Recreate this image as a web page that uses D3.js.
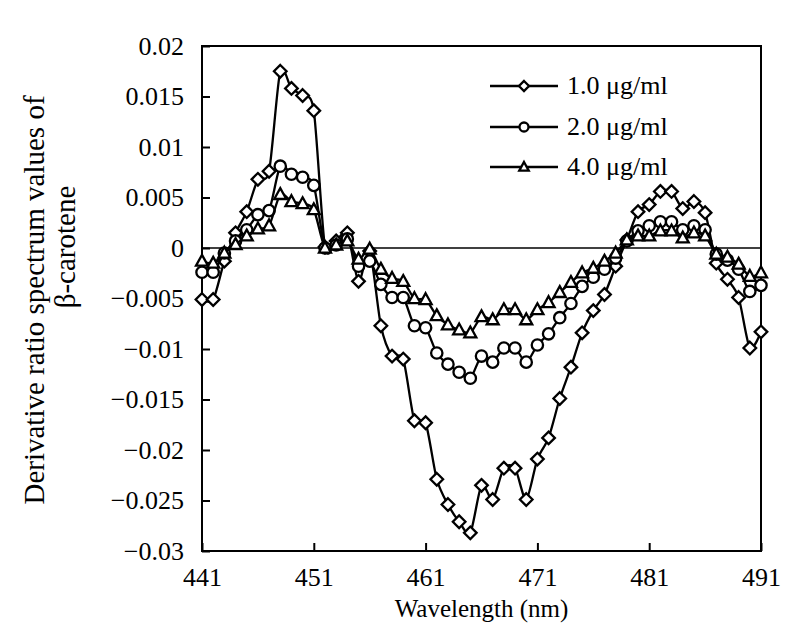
<!DOCTYPE html>
<html>
<head>
<meta charset="utf-8">
<script src="https://cdn.jsdelivr.net/npm/d3@7"></script>
<style>
  html, body { margin: 0; padding: 0; background: #fff; }
  svg { display: block; }
  text { font-family: "Liberation Serif", "Times New Roman", serif; fill: #000; }
</style>
</head>
<body>
<svg id="chart" width="800" height="642"></svg>
<script>
// ---- data (values in units of 1e-3) ----
const wavelengths = [441,442,443,444,445,446,447,448,449,450,451,452,453,454,455,456,457,458,459,460,461,462,463,464,465,466,467,468,469,470,471,472,473,474,475,476,477,478,479,480,481,482,483,484,485,486,487,488,489,490,491];
const conc1 = [-5.1,-5.1,-1.3,1.5,3.6,6.8,7.6,17.5,15.8,15.1,13.6,0.1,0.7,1.5,-3.3,-0.3,-7.7,-10.7,-11.0,-17.1,-17.3,-22.9,-25.4,-27.1,-28.2,-23.5,-24.9,-21.8,-21.8,-24.9,-20.9,-18.8,-14.9,-11.8,-8.4,-6.2,-4.6,-1.8,0.8,3.6,4.3,5.6,5.6,3.9,4.6,3.5,-1.5,-3.1,-4.9,-9.9,-8.3];
const conc2 = [-2.4,-2.4,-0.5,0.7,1.8,3.3,3.7,8.1,7.3,7.0,6.2,0.0,0.3,0.9,-1.8,-1.3,-3.6,-4.9,-4.9,-7.7,-7.9,-10.4,-11.5,-12.3,-12.9,-10.7,-11.3,-9.9,-9.9,-11.3,-9.6,-8.5,-6.9,-5.5,-3.8,-2.9,-2.1,-1.0,0.7,1.7,2.2,2.6,2.6,1.8,2.2,1.8,-0.6,-1.2,-2.1,-4.3,-3.7];
const conc4 = [-1.3,-1.5,-0.5,0.35,1.2,1.9,2.2,5.3,4.6,4.4,3.8,0.0,0.3,0.7,-1.1,-0.1,-2.1,-3.0,-3.3,-5.0,-5.1,-6.7,-7.6,-8.1,-8.4,-6.8,-7.1,-6.1,-6.1,-7.1,-6.1,-5.4,-4.4,-3.4,-2.45,-2.0,-1.3,-0.5,0.8,1.2,1.2,1.7,1.7,1.0,1.5,1.2,-0.6,-0.9,-1.6,-2.8,-2.45];
const seriesNames = ["1.0 \u03bcg/ml", "2.0 \u03bcg/ml", "4.0 \u03bcg/ml"];
const seriesMarkers = ["diamond", "circle", "triangle"];
const xTicks = [441,451,461,471,481,491];
const yTicks = [0.02,0.015,0.01,0.005,0,-0.005,-0.01,-0.015,-0.02,-0.025,-0.03];
const yTickLabels = ["0.02","0.015","0.01","0.005","0","\u22120.005","\u22120.01","\u22120.015","\u22120.02","\u22120.025","\u22120.03"];
const xTitle = "Wavelength (nm)";
const yTitleLines = ["Derivative ratio spectrum values of", "\u03b2-carotene"];

// ---- layout ----
const svg = d3.select("#chart");
const m = {left: 202, right: 761, top: 46, bottom: 551};
const x = d3.scaleLinear().domain([441, 491]).range([m.left, m.right]);
const y = d3.scaleLinear().domain([-0.03, 0.02]).range([m.bottom, m.top]);

const series = [conc1, conc2, conc4].map((vals, i) => ({
  name: seriesNames[i], marker: seriesMarkers[i],
  points: wavelengths.map((w, j) => ({x: w, y: vals[j] / 1000}))
}));

svg.append("clipPath").attr("id", "clip")
  .append("rect").attr("x", m.left - 8).attr("y", m.top).attr("width", m.right - m.left + 16).attr("height", m.bottom - m.top);

// zero line
svg.append("line")
  .attr("x1", m.left).attr("x2", m.right)
  .attr("y1", y(0)).attr("y2", y(0))
  .attr("stroke", "#000").attr("stroke-width", 1.5);

// axes (inward ticks)
const yAxis = d3.axisLeft(y).tickValues(yTicks).tickSizeInner(-8).tickSizeOuter(0)
  .tickFormat((d, i) => yTickLabels[i]).tickPadding(18);
const gy = svg.append("g").attr("transform", `translate(${m.left},0)`).call(yAxis);
const xAxis = d3.axisBottom(x).tickValues(xTicks).tickSizeInner(-8).tickSizeOuter(0)
  .tickFormat(d3.format("d")).tickPadding(17);
const gx = svg.append("g").attr("transform", `translate(0,${m.bottom})`).call(xAxis);
[gx, gy].forEach(g => {
  g.select(".domain").remove();
  g.selectAll(".tick line").attr("stroke", "#000").attr("stroke-width", 2);
  g.selectAll(".tick text").style("font-size", "26px").style("font-family", "Liberation Serif");
});

// frame
svg.append("rect")
  .attr("x", m.left).attr("y", m.top)
  .attr("width", m.right - m.left).attr("height", m.bottom - m.top)
  .attr("fill", "none").attr("stroke", "#000").attr("stroke-width", 2);

// marker path generator
function markerPath(type, s) {
  if (type === "diamond") return `M0,${-s}L${s},0L0,${s}L${-s},0Z`;
  if (type === "triangle") return `M0,${-s}L${s * 0.95},${s * 0.72}L${-s * 0.95},${s * 0.72}Z`;
  return null;
}
function drawMarker(g, type, cx, cy, s) {
  if (type === "circle") {
    g.append("circle").attr("cx", cx).attr("cy", cy).attr("r", s * 0.9)
      .attr("fill", "#fff").attr("stroke", "#000").attr("stroke-width", 2.3);
  } else {
    g.append("path").attr("d", markerPath(type, s)).attr("transform", `translate(${cx},${cy})`)
      .attr("fill", "#fff").attr("stroke", "#000").attr("stroke-width", 2.3);
  }
}

const line = d3.line().x(d => x(d.x)).y(d => y(d.y)).curve(d3.curveCardinal.tension(0.2));
const plot = svg.append("g").attr("clip-path", "url(#clip)");
series.forEach(s => {
  const g = plot.append("g");
  g.append("path").datum(s.points).attr("d", line)
    .attr("fill", "none").attr("stroke", "#000").attr("stroke-width", 2.3);
  s.points.forEach(p => drawMarker(g, s.marker, x(p.x), y(p.y), 6.3));
});

// legend
const legend = svg.append("g");
const legRows = [86, 127, 167];
series.forEach((s, i) => {
  const ly = legRows[i];
  legend.append("line").attr("x1", 490).attr("x2", 558).attr("y1", ly).attr("y2", ly)
    .attr("stroke", "#000").attr("stroke-width", 2.3);
  drawMarker(legend, s.marker, 524, ly, 5);
  legend.append("text").attr("x", 567).attr("y", ly + 8).style("font-size", "26px").text(s.name);
});

// axis titles
svg.append("text").attr("x", (m.left + m.right) / 2).attr("y", 617)
  .attr("text-anchor", "middle").style("font-size", "25px").text(xTitle);
svg.append("text").attr("transform", "translate(44,300) rotate(-90)")
  .attr("text-anchor", "middle").style("font-size", "29px").text(yTitleLines[0]);
svg.append("text").attr("transform", "translate(75,247) rotate(-90)")
  .attr("text-anchor", "middle").style("font-size", "29px").text(yTitleLines[1]);
</script>
</body>
</html>
